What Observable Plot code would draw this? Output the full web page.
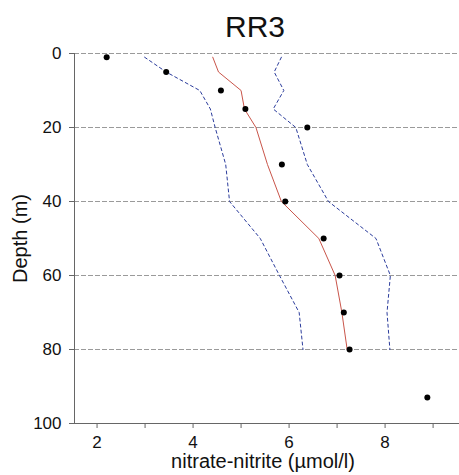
<!DOCTYPE html>
<html>
<head>
<meta charset="utf-8">
<script src="https://cdn.jsdelivr.net/npm/d3@7"></script>
<script src="https://cdn.jsdelivr.net/npm/@observablehq/plot@0.6"></script>
<style>
  html, body { margin: 0; padding: 0; background: #fff; }
  #wrap { width: 459px; height: 475px; position: relative; overflow: hidden; font-family: "Liberation Sans", Arial, sans-serif; }
  #title { position: relative; height: 44px; }
  #title span { position: absolute; left: 255px; top: 12px; transform: translateX(-50%); font-size: 30px; line-height: 30px; color: #111; white-space: nowrap; }
  svg { display: block; }
</style>
</head>
<body>
<div id="wrap">
  <div id="title"><span>RR3</span></div>
  <div id="chart"></div>
</div>
<script>
// Observed samples
const sampleDepth = [1, 5, 10, 15, 20, 30, 40, 50, 60, 70, 80, 93];
const sampleValue = [2.2, 3.44, 4.58, 5.09, 6.38, 5.85, 5.92, 6.72, 7.05, 7.14, 7.26, 8.88];

// Profile lines (mean and bounds)
const profileDepth = [1, 5, 10, 15, 20, 30, 40, 50, 60, 70, 80];
const meanValue  = [4.41, 4.53, 5.0, 5.07, 5.31, 5.55, 5.84, 6.62, 6.96, 7.1, 7.21];
const lowerValue = [2.99, 3.44, 4.14, 4.36, 4.46, 4.68, 4.76, 5.40, 5.80, 6.21, 6.29];
const upperValue = [5.84, 5.69, 5.89, 5.67, 6.14, 6.38, 6.82, 7.81, 8.11, 8.04, 8.10];

// Axes
const xMajorTicks = [2, 4, 6, 8];
const xMinorTicks = [3, 5, 7, 9];
const yTicks = [0, 20, 40, 60, 80, 100];
const gridDepths = [0, 20, 40, 60, 80];
const xLabel = ["nitrate-nitrite (µmol/l)"];
const yLabel = ["Depth (m)"];

const samples = sampleDepth.map((d, i) => ({depth: d, value: sampleValue[i]}));
const profile = profileDepth.map((d, i) => ({depth: d, mean: meanValue[i], lower: lowerValue[i], upper: upperValue[i]}));

const chart = Plot.plot({
  width: 459,
  height: 431,
  marginTop: 9,
  marginBottom: 52,
  marginLeft: 74,
  marginRight: 0,
  style: {fontFamily: "Liberation Sans, Arial, sans-serif", color: "#111", background: "#fff"},
  x: {domain: [1.53, 9.55]},
  y: {domain: [0, 100], reverse: true},
  marks: [
    Plot.ruleY(gridDepths, {stroke: "#9a9a9a", strokeWidth: 1, strokeDasharray: "5,2"}),
    Plot.ruleX([1.53], {y1: 0, y2: 100, stroke: "#666", strokeWidth: 1}),
    Plot.ruleY([100], {stroke: "#666", strokeWidth: 1}),
    Plot.axisX(xMajorTicks, {tickSize: 5, tickPadding: 7, stroke: "#666", fontSize: 17, fill: "#111", label: null, tickFormat: d => d}),
    Plot.axisX(xMinorTicks, {tickSize: 5, stroke: "#666", text: null, label: null}),
    Plot.axisY(yTicks, {tickSize: 5, tickPadding: 8, stroke: "#666", fontSize: 17, fill: "#111", label: null, tickFormat: d => d}),
    Plot.text(xLabel, {frameAnchor: "bottom", textAnchor: "middle", lineAnchor: "middle", dx: -4, dy: 38, fontSize: 20, fill: "#111"}),
    Plot.text(yLabel, {frameAnchor: "left", textAnchor: "middle", lineAnchor: "middle", dx: -54, rotate: -90, fontSize: 20, fill: "#111"}),
    Plot.line(profile, {x: "lower", y: "depth", stroke: "#2b3c9c", strokeWidth: 1, strokeDasharray: "3,3"}),
    Plot.line(profile, {x: "upper", y: "depth", stroke: "#2b3c9c", strokeWidth: 1, strokeDasharray: "3,3"}),
    Plot.line(profile, {x: "mean", y: "depth", stroke: "#c9554a", strokeWidth: 1}),
    Plot.dot(samples, {x: "value", y: "depth", r: 3, fill: "#000", stroke: "none"})
  ]
});
document.getElementById("chart").appendChild(chart);
</script>
</body>
</html>
